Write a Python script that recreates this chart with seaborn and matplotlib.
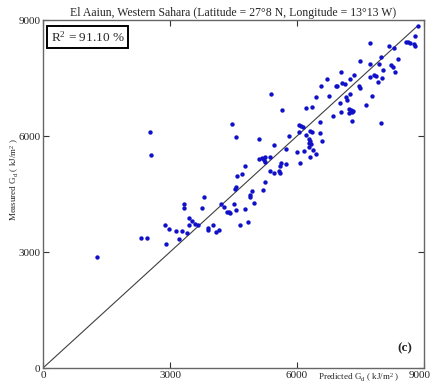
import numpy as np
import pandas as pd
import matplotlib
matplotlib.use("Agg")
import matplotlib.pyplot as plt
import matplotlib.transforms as mtransforms
import seaborn as sns

# Predicted vs. measured daily global radiation (kJ/m^2)
predicted = [
    1275, 2520, 2551, 2307, 2456, 2882, 2968, 2898, 3134, 3276, 3212, 3394, 3338, 3323,
    3456, 3441, 3527, 3590, 3669, 3811, 3763, 3890, 3897, 4008, 4079, 4150, 4212, 4275,
    4346, 4386, 4409, 4456, 4551, 4519, 4567, 4653, 4771, 4842, 4535, 4551, 4575, 4700,
    4771, 4882, 4897, 4929, 4976, 5102, 5102,
    5378, 5652, 5456, 5740, 5803, 6053, 6087, 6141, 6047, 6220, 6354, 6448, 6574, 6700,
    6748, 6921, 6944, 7039, 7070, 7133, 7252, 7347, 7488, 7464, 7488, 7724, 7716, 7716,
    7818, 7865, 7944, 7991, 8031, 8000, 7905, 7779, 7637, 8165, 8220, 8260, 8322, 8378,
    8291, 8574, 8621, 8669, 8787, 8771, 8795, 7991, 7306, 7236, 7275, 7299, 7236, 7330,
    7032, 7008, 7149, 7173, 7252, 6842, 6550, 6543, 6590, 6456, 6362, 6315, 6212, 6291,
    6315, 6276, 6323, 6291, 6307, 6078, 5993, 5747, 5614, 5598, 5574, 5598, 5464, 5354,
    5252, 5204, 5369, 5244, 5228, 5173, 5252, 6165, 6370, 8850,
]
measured = [
    2880, 6100, 5510, 3370, 3370, 3706, 3602, 3207, 3535, 3551, 3328, 3491, 4241, 4146,
    3871, 3690, 3801, 3724, 3706, 4430, 4146, 3620, 3569, 3706, 3509, 3569, 4233, 4172,
    4026, 4026, 4000, 6310, 5965, 4249, 4094, 3690, 4112, 3776, 4629, 4673, 4957, 5025,
    5224, 4482, 4414, 4585, 4267, 5405, 5922,
    7086, 6680, 5757, 5663, 6008, 6284, 6266, 6224, 6111, 6724, 6741, 7017, 7301, 7482,
    7025, 7301, 7284, 7646, 7381, 7334, 7465, 7585, 7947, 7293, 7233, 8413, 7870, 7525,
    7577, 7559, 7870, 8034, 7706, 7491, 7387, 7042, 6801, 8327, 7844, 7792, 7646, 7981,
    8267, 8430, 8430, 8413, 8585, 8371, 8335, 6336, 6387, 6687, 6672, 6628, 6586, 6638,
    6610, 6861, 7017, 6930, 7086, 6508, 6370, 6077, 5860, 5534, 6111, 6137, 6016, 5922,
    5878, 5818, 5785, 5723, 5446, 5301, 5586, 5275, 5301, 5232, 5103, 5051, 5043, 5103,
    4810, 4603, 5464, 5446, 5379, 5421, 5336, 5619, 5645, 8840,
]
ticks = [0, 3000, 6000, 9000]
line_end = 8850
r2_text = "R$^2$ = 91.10 %"
title = "El Aaiun, Western Sahara (Latitude = 27\u00b08 N, Longitude = 13\u00b013 W)"

df = pd.DataFrame({"Predicted": predicted, "Measured": measured})

sns.set_style("white")
plt.rcParams["font.family"] = ["Liberation Serif", "DejaVu Serif"]
plt.rcParams["mathtext.fontset"] = "custom"
plt.rcParams["mathtext.rm"] = "Liberation Serif"
plt.rcParams["mathtext.it"] = "Liberation Serif:italic"

fig = plt.figure(figsize=(4.32, 3.88), dpi=100)
ax = fig.add_axes([43 / 432, 20 / 388, 381 / 432, 348 / 388])

# 1:1 reference line
ax.plot([0, line_end], [0, line_end], color="#404040", lw=0.8, zorder=1)

sns.scatterplot(data=df, x="Predicted", y="Measured", ax=ax, color="#1010c8",
                s=10, linewidth=0, zorder=2)

ax.set_xlim(0, 9000)
ax.set_ylim(0, 9000)
ax.set_xticks(ticks)
ax.set_yticks(ticks)
ax.set_xticklabels([str(t) for t in ticks], fontsize=8)
ax.set_yticklabels([str(t) for t in ticks], fontsize=8)
ax.tick_params(direction="in", length=4, width=0.8, color="#333333",
               top=True, right=True, bottom=True, left=True, pad=2)
# keep the last x tick label inside the figure edge
last = ax.get_xticklabels()[-1]
last.set_horizontalalignment("right")
last.set_transform(last.get_transform() +
                   mtransforms.ScaledTranslation(7 / 100, 0, fig.dpi_scale_trans))
for sp in ax.spines.values():
    sp.set_color("#666666")
    sp.set_linewidth(1.0)

ax.set_xlabel("")
ax.set_ylabel("")
fig.text(318 / 432, 1 - 378 / 388, "Predicted G$_\\mathrm{d}$ ( kJ/m$^2$ )",
         fontsize=6.5, ha="left", va="center")
fig.text(15 / 432, 1 - 180 / 388, "Measured G$_\\mathrm{d}$ ( kJ/m$^2$ )",
         fontsize=6.5, rotation=90, ha="center", va="center")

ax.set_title(title, fontsize=8.5, pad=3)

ax.text(0.02, 0.972, r2_text, transform=ax.transAxes, fontsize=9.5,
        ha="left", va="top",
        bbox=dict(boxstyle="square,pad=0.3", facecolor="white",
                  edgecolor="black", linewidth=1.4))
ax.text(0.968, 0.04, "(c)", transform=ax.transAxes, fontsize=9.5,
        fontweight="bold", ha="right", va="bottom")

fig.savefig("out.png", dpi=100)
